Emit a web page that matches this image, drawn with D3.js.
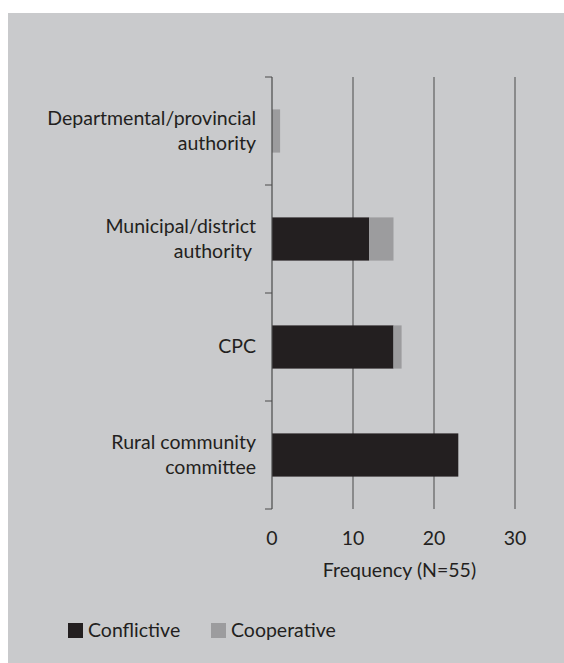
<!DOCTYPE html>
<html>
<head>
<meta charset="utf-8">
<script src="https://cdn.jsdelivr.net/npm/d3@7"></script>
<style>
  html, body { margin: 0; padding: 0; background: #ffffff; }
  svg { display: block; }
  text { font-family: Lato, "Open Sans", sans-serif; fill: #231f20; }
</style>
</head>
<body>
<svg id="chart" width="564" height="663"></svg>
<script>
const categories = [
  ["Departmental/provincial", "authority"],
  ["Municipal/district", "authority"],
  ["CPC"],
  ["Rural community", "committee"]
];
const categoryKeys = ["Departmental/provincial authority", "Municipal/district authority", "CPC", "Rural community committee"];
const conflictive = [0, 12, 15, 23];
const cooperative = [1, 3, 1, 0];
const seriesNames = ["Conflictive", "Cooperative"];
const seriesColors = ["#231f20", "#9c9c9e"];
const xTicks = [0, 10, 20, 30];
const xTitle = "Frequency (N=55)";

const svg = d3.select("#chart");
svg.append("rect").attr("x", 8).attr("y", 13).attr("width", 556).attr("height", 650).attr("fill", "#c9cacc");

const x = d3.scaleLinear().domain([0, 30]).range([272, 515]);
const y = d3.scaleBand().domain(categoryKeys).range([77, 509]).paddingInner(0.6).paddingOuter(0.3);

// gridlines
svg.append("g").selectAll("line").data(xTicks.filter(d => d > 0)).join("line")
  .attr("x1", d => x(d)).attr("x2", d => x(d))
  .attr("y1", 77).attr("y2", 509)
  .attr("stroke", "#4a4a4a").attr("stroke-width", 1);

// stacked bars
const rows = categoryKeys.map((k, i) => ({ key: k, Conflictive: conflictive[i], Cooperative: cooperative[i] }));
const stack = d3.stack().keys(seriesNames)(rows);
svg.append("g").selectAll("g").data(stack).join("g")
  .attr("fill", (d, i) => seriesColors[i])
  .selectAll("rect").data(d => d).join("rect")
  .attr("x", d => x(d[0]))
  .attr("width", d => x(d[1]) - x(d[0]))
  .attr("y", d => y(d.data.key))
  .attr("height", y.bandwidth());

// y axis line with ticks at band boundaries
const yAxisG = svg.append("g");
yAxisG.append("line").attr("x1", 272).attr("x2", 272).attr("y1", 77).attr("y2", 509)
  .attr("stroke", "#4a4a4a").attr("stroke-width", 1.2);
const step = (509 - 77) / categoryKeys.length;
yAxisG.selectAll("line.tick").data(d3.range(categoryKeys.length + 1)).join("line")
  .attr("class", "tick")
  .attr("x1", 265).attr("x2", 272)
  .attr("y1", d => 77 + d * step).attr("y2", d => 77 + d * step)
  .attr("stroke", "#4a4a4a").attr("stroke-width", 1);

// category labels
const fs = 19.5;
categories.forEach((lines, i) => {
  const cy = 77 + (i + 0.5) * step;
  const n = lines.length;
  const t = svg.append("text").attr("text-anchor", "end").attr("font-size", fs);
  lines.forEach((ln, j) => {
    t.append("tspan").attr("x", i === 1 && j === 1 ? 252 : 256)
      .attr("y", cy + 6 + (j - (n - 1) / 2) * 25)
      .text(ln);
  });
});

// x tick labels
svg.append("g").selectAll("text").data(xTicks).join("text")
  .attr("x", d => x(d)).attr("y", 545)
  .attr("text-anchor", "middle").attr("font-size", fs)
  .text(d => d);

svg.append("text").attr("x", 399.5).attr("y", 577).attr("text-anchor", "middle")
  .attr("font-size", fs).text(xTitle);

// legend
const legendX = [68, 211];
seriesNames.forEach((s, i) => {
  svg.append("rect").attr("x", legendX[i]).attr("y", 623).attr("width", 15).attr("height", 15).attr("fill", seriesColors[i]);
  svg.append("text").attr("x", legendX[i] + 20).attr("y", 637).attr("font-size", fs).text(s);
});
</script>
</body>
</html>
